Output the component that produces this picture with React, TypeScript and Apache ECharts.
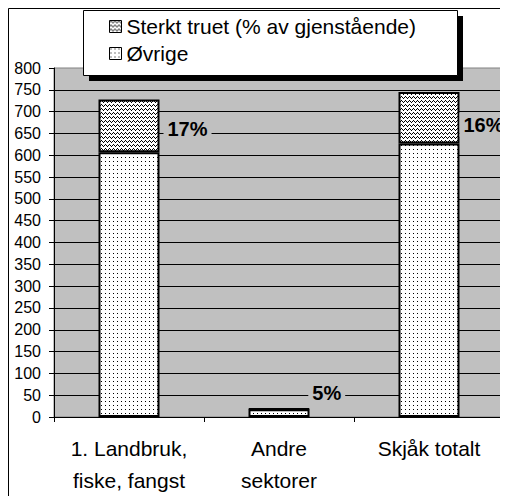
import React, { useEffect, useRef } from "react";
import * as echarts from "echarts";

const categories = ["1. Landbruk,\nfiske, fangst", "Andre\nsektorer", "Skjåk totalt"];
const seriesNames = ["Sterkt truet (% av gjenstående)", "Øvrige"];
const ovrigeValues = [607, 18, 627];
const sterktValues = [121, 1, 118];
const pctLabels = ["17%", "5%", "16%"];
const yMin = 0;
const yMax = 800;
const yInterval = 50;

function makePattern(pixels: [number, number][], w: number, h: number) {
  const c = document.createElement("canvas");
  c.width = w;
  c.height = h;
  const ctx = c.getContext("2d")!;
  ctx.fillStyle = "#ffffff";
  ctx.fillRect(0, 0, w, h);
  ctx.fillStyle = "#000000";
  pixels.forEach(([x, y]) => ctx.fillRect(x, y, 1, 1));
  return { image: c, repeat: "repeat" } as any;
}

export default function App() {
  const ref = useRef<HTMLDivElement>(null);
  useEffect(() => {
    if (!ref.current) return;
    const chart = echarts.init(ref.current, undefined, { renderer: "svg" });
    const dots = makePattern([[1, 1]], 4, 4);
    const waves = makePattern([[1, 0], [0, 1], [2, 1], [3, 2]], 4, 4);
    const font = "'Liberation Sans', Arial, sans-serif";
    const labelOffsets: [number, number][] = [[0, 3], [-6, -16], [-4, 7]];

    chart.setOption({
      animation: false,
      backgroundColor: "#ffffff",
      textStyle: { fontFamily: font, color: "#000" },
      grid: {
        left: 46,
        right: 4,
        top: 60,
        bottom: 77,
        show: true,
        backgroundColor: "#c0c0c0",
        borderColor: "#808080",
        borderWidth: 1,
      },
      legend: {
        orient: "vertical",
        left: 101,
        top: 7,
        padding: 0,
        z: 60,
        itemWidth: 12,
        itemHeight: 12,
        itemGap: 4,
        icon: "rect",
        data: seriesNames,
        itemStyle: { borderColor: "#000", borderWidth: 1 },
        textStyle: { fontFamily: font, fontSize: 21, lineHeight: 23, color: "#000" },
      },
      graphic: [
        { type: "line", z: 40, shape: { x1: 0.5, y1: 0.5, x2: 500, y2: 0.5 }, style: { stroke: "#000", lineWidth: 1 } },
        { type: "line", z: 40, shape: { x1: 0.5, y1: 0.5, x2: 0.5, y2: 488 }, style: { stroke: "#000", lineWidth: 1 } },
        { type: "rect", z: 50, shape: { x: 81, y: 8, width: 374, height: 65 }, style: { fill: "#000" } },
        { type: "rect", z: 51, shape: { x: 75.5, y: 2.5, width: 374, height: 65 }, style: { fill: "#fff", stroke: "#000", lineWidth: 1 } },
      ],
      xAxis: {
        type: "category",
        data: categories,
        axisLine: { lineStyle: { color: "#000", width: 1 } },
        axisTick: { show: true, length: 5, lineStyle: { color: "#000" } },
        axisLabel: { interval: 0, fontFamily: font, fontSize: 21, lineHeight: 32, margin: 15, color: "#000" },
      },
      yAxis: {
        type: "value",
        min: yMin,
        max: yMax,
        interval: yInterval,
        axisLine: { show: true, lineStyle: { color: "#000", width: 1 } },
        axisTick: { show: true, length: 5, lineStyle: { color: "#000" } },
        axisLabel: { fontFamily: font, fontSize: 16, margin: 13, color: "#000" },
        splitLine: { show: true, showMaxLine: false, lineStyle: { color: "#000", width: 1 } },
      },
      series: [
        {
          name: seriesNames[1],
          type: "bar",
          stack: "total",
          barWidth: 61,
          data: ovrigeValues,
          itemStyle: { color: dots, borderColor: "#000", borderWidth: 2 },
        },
        {
          name: seriesNames[0],
          type: "bar",
          stack: "total",
          barWidth: 61,
          data: sterktValues.map((v, i) => ({
            value: v,
            label: { offset: labelOffsets[i] },
          })),
          itemStyle: { color: waves, borderColor: "#000", borderWidth: 2 },
          label: {
            show: true,
            position: "right",
            distance: 4,
            formatter: (p: any) => pctLabels[p.dataIndex],
            fontFamily: font,
            fontSize: 20,
            fontWeight: "bold",
            color: "#000",
            backgroundColor: "#c0c0c0",
            padding: [2, 4, 2, 4],
          },
        },
      ],
    });
    return () => chart.dispose();
  }, []);
  return <div ref={ref} style={{ width: 500, height: 488 }} />;
}
